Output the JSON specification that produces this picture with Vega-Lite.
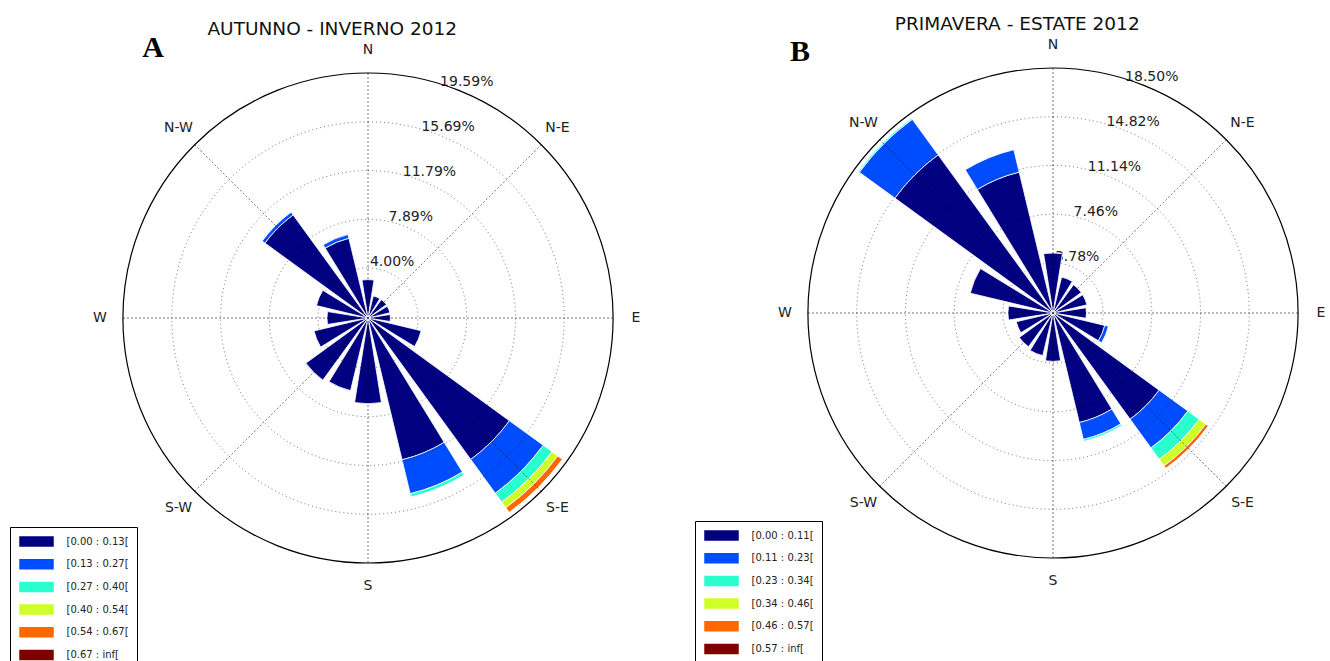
{
  "$schema": "https://vega.github.io/schema/vega-lite/v6.json",
  "padding": 0,
  "background": "white",
  "bounds": "flush",
  "spacing": 37,
  "config": {"view": {"stroke": null}, "font": "DejaVu Sans", "text": {"font": "DejaVu Sans"}},
  "resolve": {"scale": {"color": "independent", "radius": "independent", "theta": "independent"}, "legend": {"color": "independent"}},
  "hconcat": [
    {
      "width": 736,
      "height": 636,
      "layer": [
        {
          "data": {"values": [{"r": 4.00, "t": "4.00%"}, {"r": 7.89, "t": "7.89%"}, {"r": 11.79, "t": "11.79%"}, {"r": 15.69, "t": "15.69%"}, {"r": 19.59, "t": "19.59%"}]},
          "mark": {"type": "text", "fontSize": 14, "color": "#222", "dx": 5, "dy": -10},
          "encoding": {
            "theta": {"datum": 22.5, "type": "quantitative", "scale": {"type": "linear", "domain": [0, 360], "range": [0, 6.283185307179586]}, "stack": null},
            "radius": {"field": "r", "type": "quantitative", "scale": {"type": "linear", "domain": [0, 19.59], "range": [0, 245], "zero": true, "nice": false}, "stack": null},
            "text": {"field": "t"}
          }
        },
        {
          "data": {"values": [
            {"deg": 0, "k": 0, "bin": "[0.00 : 0.13[", "v": 3.07},
            {"deg": 22.5, "k": 0, "bin": "[0.00 : 0.13[", "v": 1.81},
            {"deg": 45, "k": 0, "bin": "[0.00 : 0.13[", "v": 1.82},
            {"deg": 67.5, "k": 0, "bin": "[0.00 : 0.13[", "v": 1.80},
            {"deg": 90, "k": 0, "bin": "[0.00 : 0.13[", "v": 1.79},
            {"deg": 112.5, "k": 0, "bin": "[0.00 : 0.13[", "v": 4.37},
            {"deg": 135, "k": 0, "bin": "[0.00 : 0.13[", "v": 13.98},
            {"deg": 135, "k": 1, "bin": "[0.13 : 0.27[", "v": 3.34},
            {"deg": 135, "k": 2, "bin": "[0.27 : 0.40[", "v": 0.87},
            {"deg": 135, "k": 3, "bin": "[0.40 : 0.54[", "v": 0.57},
            {"deg": 135, "k": 4, "bin": "[0.54 : 0.67[", "v": 0.45},
            {"deg": 157.5, "k": 0, "bin": "[0.00 : 0.13[", "v": 11.66},
            {"deg": 157.5, "k": 1, "bin": "[0.13 : 0.27[", "v": 2.79},
            {"deg": 157.5, "k": 2, "bin": "[0.27 : 0.40[", "v": 0.27},
            {"deg": 180, "k": 0, "bin": "[0.00 : 0.13[", "v": 6.85},
            {"deg": 202.5, "k": 0, "bin": "[0.00 : 0.13[", "v": 5.97},
            {"deg": 225, "k": 0, "bin": "[0.00 : 0.13[", "v": 6.14},
            {"deg": 247.5, "k": 0, "bin": "[0.00 : 0.13[", "v": 4.44},
            {"deg": 270, "k": 0, "bin": "[0.00 : 0.13[", "v": 3.28},
            {"deg": 292.5, "k": 0, "bin": "[0.00 : 0.13[", "v": 4.24},
            {"deg": 315, "k": 0, "bin": "[0.00 : 0.13[", "v": 10.19},
            {"deg": 315, "k": 1, "bin": "[0.13 : 0.27[", "v": 0.27},
            {"deg": 337.5, "k": 0, "bin": "[0.00 : 0.13[", "v": 6.56},
            {"deg": 337.5, "k": 1, "bin": "[0.13 : 0.27[", "v": 0.30}
          ]},
          "transform": [{"stack": "v", "groupby": ["deg"], "sort": [{"field": "k", "order": "ascending"}], "as": ["r0", "r1"]}],
          "mark": {"type": "arc", "stroke": "white", "strokeWidth": 0.8, "thetaOffset": -0.15708, "theta2Offset": 0.15708},
          "encoding": {
            "theta": {"field": "deg", "type": "quantitative", "scale": {"type": "linear", "domain": [0, 360], "range": [0, 6.283185307179586]}, "stack": null},
            "theta2": {"field": "deg"},
            "radius": {"field": "r1", "type": "quantitative", "scale": {"type": "linear", "domain": [0, 19.59], "range": [0, 245], "zero": true, "nice": false}, "stack": null},
            "radius2": {"field": "r0"},
            "color": {
              "field": "bin", "type": "nominal",
              "scale": {"domain": ["[0.00 : 0.13[", "[0.13 : 0.27[", "[0.27 : 0.40[", "[0.40 : 0.54[", "[0.54 : 0.67[", "[0.67 : inf["], "range": ["#000080", "#004cff", "#29ffce", "#ceff29", "#ff6800", "#800000"]},
              "legend": {
                "title": null, "orient": "none", "legendX": 10, "legendY": 527, "direction": "vertical",
                "strokeColor": "black", "fillColor": "white", "padding": 7.5, "cornerRadius": 0,
                "symbolType": "M-1,-1H5V1H-1Z", "symbolSize": 144, "symbolOpacity": 1,
                "labelFont": "DejaVu Sans", "labelFontSize": 10, "labelColor": "#222", "labelOffset": 35, "rowPadding": 4.7, "labelLimit": 200,
                "encode": {"symbols": {"update": {"stroke": {"value": "black"}, "strokeWidth": {"value": 0.8}}}}
              }
            }
          }
        },
        {
          "data": {"values": [{"r": 4.00}, {"r": 7.89}, {"r": 11.79}, {"r": 15.69}]},
          "mark": {"type": "arc", "filled": false, "stroke": "black", "strokeOpacity": 0.55, "strokeWidth": 1, "strokeDash": [1, 3], "theta": 0, "theta2": 6.283185307179586},
          "encoding": {
            "radius": {"field": "r", "type": "quantitative", "scale": {"type": "linear", "domain": [0, 19.59], "range": [0, 245], "zero": true, "nice": false}, "stack": null}
          }
        },
        {
          "data": {"values": [{"deg": 0}, {"deg": 45}, {"deg": 90}, {"deg": 135}, {"deg": 180}, {"deg": 225}, {"deg": 270}, {"deg": 315}]},
          "mark": {"type": "arc", "filled": false, "stroke": "black", "strokeOpacity": 0.55, "strokeWidth": 1, "strokeDash": [1, 3]},
          "encoding": {
            "theta": {"field": "deg", "type": "quantitative", "scale": {"type": "linear", "domain": [0, 360], "range": [0, 6.283185307179586]}, "stack": null},
            "theta2": {"field": "deg"},
            "radius": {"datum": 19.59, "type": "quantitative", "scale": {"type": "linear", "domain": [0, 19.59], "range": [0, 245], "zero": true, "nice": false}, "stack": null}
          }
        },
        {
          "data": {"values": [{"r": 19.59}]},
          "mark": {"type": "arc", "filled": false, "stroke": "black", "strokeWidth": 1.2, "theta": 0, "theta2": 6.283185307179586},
          "encoding": {
            "radius": {"field": "r", "type": "quantitative", "scale": {"type": "linear", "domain": [0, 19.59], "range": [0, 245], "zero": true, "nice": false}, "stack": null}
          }
        },
        {
          "data": {"values": [{"deg": 0, "lab": "N"}, {"deg": 45, "lab": "N-E"}, {"deg": 90, "lab": "E"}, {"deg": 135, "lab": "S-E"}, {"deg": 180, "lab": "S"}, {"deg": 225, "lab": "S-W"}, {"deg": 270, "lab": "W"}, {"deg": 315, "lab": "N-W"}]},
          "mark": {"type": "text", "fontSize": 14, "color": "#222"},
          "encoding": {
            "theta": {"field": "deg", "type": "quantitative", "scale": {"type": "linear", "domain": [0, 360], "range": [0, 6.283185307179586]}, "stack": null},
            "radius": {"datum": 21.43, "type": "quantitative", "scale": {"type": "linear", "domain": [0, 19.59], "range": [0, 245], "zero": true, "nice": false}, "stack": null},
            "text": {"field": "lab"}
          }
        },
        {
          "data": {"values": [{"t": "AUTUNNO - INVERNO 2012"}]},
          "mark": {"type": "text", "fontSize": 18.5, "color": "#111"},
          "encoding": {
            "theta": {"datum": 352.94, "type": "quantitative", "scale": {"type": "linear", "domain": [0, 360], "range": [0, 6.283185307179586]}, "stack": null},
            "radius": {"datum": 23.28, "type": "quantitative", "scale": {"type": "linear", "domain": [0, 19.59], "range": [0, 245], "zero": true, "nice": false}, "stack": null},
            "text": {"field": "t"}
          }
        },
        {
          "data": {"values": [{"t": "A"}]},
          "mark": {"type": "text", "fontSize": 30, "font": "Liberation Serif", "fontWeight": "bold", "color": "black"},
          "encoding": {
            "theta": {"datum": 321.44, "type": "quantitative", "scale": {"type": "linear", "domain": [0, 360], "range": [0, 6.283185307179586]}, "stack": null},
            "radius": {"datum": 27.58, "type": "quantitative", "scale": {"type": "linear", "domain": [0, 19.59], "range": [0, 245], "zero": true, "nice": false}, "stack": null},
            "text": {"field": "t"}
          }
        }
      ]
    },
    {
      "width": 560,
      "height": 626,
      "layer": [
        {
          "data": {"values": [{"r": 3.78, "t": "3.78%"}, {"r": 7.46, "t": "7.46%"}, {"r": 11.14, "t": "11.14%"}, {"r": 14.82, "t": "14.82%"}, {"r": 18.50, "t": "18.50%"}]},
          "mark": {"type": "text", "fontSize": 14, "color": "#222", "dx": 5, "dy": -10},
          "encoding": {
            "theta": {"datum": 22.5, "type": "quantitative", "scale": {"type": "linear", "domain": [0, 360], "range": [0, 6.283185307179586]}, "stack": null},
            "radius": {"field": "r", "type": "quantitative", "scale": {"type": "linear", "domain": [0, 18.5], "range": [0, 245], "zero": true, "nice": false}, "stack": null},
            "text": {"field": "t"}
          }
        },
        {
          "data": {"values": [
            {"deg": 0, "k": 0, "bin": "[0.00 : 0.11[", "v": 4.53},
            {"deg": 22.5, "k": 0, "bin": "[0.00 : 0.11[", "v": 2.79},
            {"deg": 45, "k": 0, "bin": "[0.00 : 0.11[", "v": 2.64},
            {"deg": 67.5, "k": 0, "bin": "[0.00 : 0.11[", "v": 2.63},
            {"deg": 90, "k": 0, "bin": "[0.00 : 0.11[", "v": 2.52},
            {"deg": 112.5, "k": 0, "bin": "[0.00 : 0.11[", "v": 4.02},
            {"deg": 112.5, "k": 1, "bin": "[0.11 : 0.23[", "v": 0.28},
            {"deg": 135, "k": 0, "bin": "[0.00 : 0.11[", "v": 9.91},
            {"deg": 135, "k": 1, "bin": "[0.11 : 0.23[", "v": 2.68},
            {"deg": 135, "k": 2, "bin": "[0.23 : 0.34[", "v": 1.06},
            {"deg": 135, "k": 3, "bin": "[0.34 : 0.46[", "v": 0.62},
            {"deg": 135, "k": 4, "bin": "[0.46 : 0.57[", "v": 0.23},
            {"deg": 157.5, "k": 0, "bin": "[0.00 : 0.11[", "v": 8.51},
            {"deg": 157.5, "k": 1, "bin": "[0.11 : 0.23[", "v": 1.31},
            {"deg": 157.5, "k": 2, "bin": "[0.23 : 0.34[", "v": 0.15},
            {"deg": 180, "k": 0, "bin": "[0.00 : 0.11[", "v": 3.65},
            {"deg": 202.5, "k": 0, "bin": "[0.00 : 0.11[", "v": 3.31},
            {"deg": 225, "k": 0, "bin": "[0.00 : 0.11[", "v": 3.15},
            {"deg": 247.5, "k": 0, "bin": "[0.00 : 0.11[", "v": 2.85},
            {"deg": 270, "k": 0, "bin": "[0.00 : 0.11[", "v": 3.40},
            {"deg": 292.5, "k": 0, "bin": "[0.00 : 0.11[", "v": 6.42},
            {"deg": 315, "k": 0, "bin": "[0.00 : 0.11[", "v": 14.76},
            {"deg": 315, "k": 1, "bin": "[0.11 : 0.23[", "v": 3.32},
            {"deg": 315, "k": 2, "bin": "[0.23 : 0.34[", "v": 0.10},
            {"deg": 337.5, "k": 0, "bin": "[0.00 : 0.11[", "v": 10.94},
            {"deg": 337.5, "k": 1, "bin": "[0.11 : 0.23[", "v": 1.74}
          ]},
          "transform": [{"stack": "v", "groupby": ["deg"], "sort": [{"field": "k", "order": "ascending"}], "as": ["r0", "r1"]}],
          "mark": {"type": "arc", "stroke": "white", "strokeWidth": 0.8, "thetaOffset": -0.15708, "theta2Offset": 0.15708},
          "encoding": {
            "theta": {"field": "deg", "type": "quantitative", "scale": {"type": "linear", "domain": [0, 360], "range": [0, 6.283185307179586]}, "stack": null},
            "theta2": {"field": "deg"},
            "radius": {"field": "r1", "type": "quantitative", "scale": {"type": "linear", "domain": [0, 18.5], "range": [0, 245], "zero": true, "nice": false}, "stack": null},
            "radius2": {"field": "r0"},
            "color": {
              "field": "bin", "type": "nominal",
              "scale": {"domain": ["[0.00 : 0.11[", "[0.11 : 0.23[", "[0.23 : 0.34[", "[0.34 : 0.46[", "[0.46 : 0.57[", "[0.57 : inf["], "range": ["#000080", "#004cff", "#29ffce", "#ceff29", "#ff6800", "#800000"]},
              "legend": {
                "title": null, "orient": "none", "legendX": -78, "legendY": 521, "direction": "vertical",
                "strokeColor": "black", "fillColor": "white", "padding": 7.5, "cornerRadius": 0,
                "symbolType": "M-1,-1H5V1H-1Z", "symbolSize": 144, "symbolOpacity": 1,
                "labelFont": "DejaVu Sans", "labelFontSize": 10, "labelColor": "#222", "labelOffset": 35, "rowPadding": 4.7, "labelLimit": 200,
                "encode": {"symbols": {"update": {"stroke": {"value": "black"}, "strokeWidth": {"value": 0.8}}}}
              }
            }
          }
        },
        {
          "data": {"values": [{"r": 3.78}, {"r": 7.46}, {"r": 11.14}, {"r": 14.82}]},
          "mark": {"type": "arc", "filled": false, "stroke": "black", "strokeOpacity": 0.55, "strokeWidth": 1, "strokeDash": [1, 3], "theta": 0, "theta2": 6.283185307179586},
          "encoding": {
            "radius": {"field": "r", "type": "quantitative", "scale": {"type": "linear", "domain": [0, 18.5], "range": [0, 245], "zero": true, "nice": false}, "stack": null}
          }
        },
        {
          "data": {"values": [{"deg": 0}, {"deg": 45}, {"deg": 90}, {"deg": 135}, {"deg": 180}, {"deg": 225}, {"deg": 270}, {"deg": 315}]},
          "mark": {"type": "arc", "filled": false, "stroke": "black", "strokeOpacity": 0.55, "strokeWidth": 1, "strokeDash": [1, 3]},
          "encoding": {
            "theta": {"field": "deg", "type": "quantitative", "scale": {"type": "linear", "domain": [0, 360], "range": [0, 6.283185307179586]}, "stack": null},
            "theta2": {"field": "deg"},
            "radius": {"datum": 18.5, "type": "quantitative", "scale": {"type": "linear", "domain": [0, 18.5], "range": [0, 245], "zero": true, "nice": false}, "stack": null}
          }
        },
        {
          "data": {"values": [{"r": 18.5}]},
          "mark": {"type": "arc", "filled": false, "stroke": "black", "strokeWidth": 1.2, "theta": 0, "theta2": 6.283185307179586},
          "encoding": {
            "radius": {"field": "r", "type": "quantitative", "scale": {"type": "linear", "domain": [0, 18.5], "range": [0, 245], "zero": true, "nice": false}, "stack": null}
          }
        },
        {
          "data": {"values": [{"deg": 0, "lab": "N"}, {"deg": 45, "lab": "N-E"}, {"deg": 90, "lab": "E"}, {"deg": 135, "lab": "S-E"}, {"deg": 180, "lab": "S"}, {"deg": 225, "lab": "S-W"}, {"deg": 270, "lab": "W"}, {"deg": 315, "lab": "N-W"}]},
          "mark": {"type": "text", "fontSize": 14, "color": "#222"},
          "encoding": {
            "theta": {"field": "deg", "type": "quantitative", "scale": {"type": "linear", "domain": [0, 360], "range": [0, 6.283185307179586]}, "stack": null},
            "radius": {"datum": 20.24, "type": "quantitative", "scale": {"type": "linear", "domain": [0, 18.5], "range": [0, 245], "zero": true, "nice": false}, "stack": null},
            "text": {"field": "lab"}
          }
        },
        {
          "data": {"values": [{"t": "PRIMAVERA - ESTATE 2012"}]},
          "mark": {"type": "text", "fontSize": 18.5, "color": "#111"},
          "encoding": {
            "theta": {"datum": 352.94, "type": "quantitative", "scale": {"type": "linear", "domain": [0, 360], "range": [0, 6.283185307179586]}, "stack": null},
            "radius": {"datum": 21.99, "type": "quantitative", "scale": {"type": "linear", "domain": [0, 18.5], "range": [0, 245], "zero": true, "nice": false}, "stack": null},
            "text": {"field": "t"}
          }
        },
        {
          "data": {"values": [{"t": "B"}]},
          "mark": {"type": "text", "fontSize": 30, "font": "Liberation Serif", "fontWeight": "bold", "color": "black"},
          "encoding": {
            "theta": {"datum": 315.9, "type": "quantitative", "scale": {"type": "linear", "domain": [0, 360], "range": [0, 6.283185307179586]}, "stack": null},
            "radius": {"datum": 27.46, "type": "quantitative", "scale": {"type": "linear", "domain": [0, 18.5], "range": [0, 245], "zero": true, "nice": false}, "stack": null},
            "text": {"field": "t"}
          }
        }
      ]
    }
  ]
}
